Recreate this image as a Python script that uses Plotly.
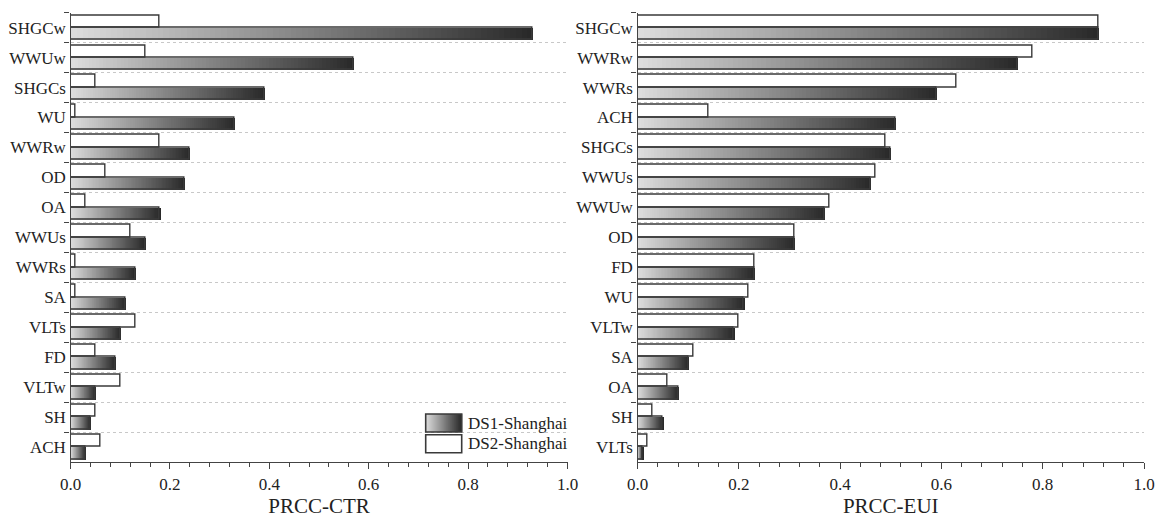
import plotly.graph_objects as go
import numpy as np

# ---------------- data ----------------
ctr_factors = ["SHGCw", "WWUw", "SHGCs", "WU", "WWRw", "OD", "OA", "WWUs",
               "WWRs", "SA", "VLTs", "FD", "VLTw", "SH", "ACH"]
ctr_ds1 = [0.93, 0.57, 0.39, 0.33, 0.24, 0.23, 0.18, 0.15, 0.13, 0.11, 0.10, 0.09, 0.05, 0.04, 0.03]
ctr_ds2 = [0.18, 0.15, 0.05, 0.01, 0.18, 0.07, 0.03, 0.12, 0.01, 0.01, 0.13, 0.05, 0.10, 0.05, 0.06]

eui_factors = ["SHGCw", "WWRw", "WWRs", "ACH", "SHGCs", "WWUs", "WWUw", "OD",
               "FD", "WU", "VLTw", "SA", "OA", "SH", "VLTs"]
eui_ds1 = [0.91, 0.75, 0.59, 0.51, 0.50, 0.46, 0.37, 0.31, 0.23, 0.21, 0.19, 0.10, 0.08, 0.05, 0.01]
eui_ds2 = [0.91, 0.78, 0.63, 0.14, 0.49, 0.47, 0.38, 0.31, 0.23, 0.22, 0.20, 0.11, 0.06, 0.03, 0.02]

series_names = ["DS1-Shanghai", "DS2-Shanghai"]
axis_titles = ["PRCC-CTR", "PRCC-EUI"]
x_ticks = [0.0, 0.2, 0.4, 0.6, 0.8, 1.0]

# ---------------- style ----------------
OFF = 8                      # page body margin
W, H = 1163 - 2 * OFF, 518 - OFF
FONT = "Liberation Serif"
TXT = "#222222"
EDGE = "#3a3a3a"
C_LIGHT = np.array([222, 222, 222])
C_DARK = np.array([40, 40, 40])
N_SEG = 80
BAR_W = 0.415


def px(x):
    return (x - OFF) / W


def py(y):
    return 1 - (y - OFF) / H


def grad(t):
    c = C_LIGHT + (C_DARK - C_LIGHT) * t
    return "rgb(%d,%d,%d)" % tuple(int(round(v)) for v in c)


fig = go.Figure()

panels = [
    ("x", "y", ctr_factors, ctr_ds1, ctr_ds2),
    ("x2", "y2", eui_factors, eui_ds1, eui_ds2),
]

for xa, ya, factors, ds1, ds2 in panels:
    # DS2: white bars (upper bar in each group)
    fig.add_trace(go.Bar(
        y=factors, x=ds2, orientation="h", offset=-BAR_W, width=BAR_W,
        marker=dict(color="white", line=dict(color=EDGE, width=1.4)),
        xaxis=xa, yaxis=ya, showlegend=False, name=series_names[1],
    ))
    # DS1: gradient bars built from stacked segments of each value
    for i in range(N_SEG):
        fig.add_trace(go.Bar(
            y=factors, x=[v / N_SEG for v in ds1], base=[v * i / N_SEG for v in ds1],
            orientation="h", offset=0, width=BAR_W,
            marker=dict(color=grad((i + 0.5) / N_SEG), line=dict(width=0)),
            xaxis=xa, yaxis=ya, showlegend=False, hoverinfo="skip",
        ))
    # DS1 outline
    fig.add_trace(go.Bar(
        y=factors, x=ds1, orientation="h", offset=0, width=BAR_W,
        marker=dict(color="rgba(0,0,0,0)", line=dict(color=EDGE, width=1.4)),
        xaxis=xa, yaxis=ya, showlegend=False, name=series_names[0],
    ))

xaxis_common = dict(
    range=[0, 1], showline=True, linecolor="#444444", linewidth=1.4,
    ticks="outside", ticklen=6, tickwidth=1.2, tickcolor="#444444",
    tickvals=x_ticks, ticktext=["%.1f" % v for v in x_ticks],
    minor=dict(dtick=0.04, tick0=0, ticks="outside", ticklen=4, tickwidth=1.1,
               tickcolor="#444444", showgrid=False),
    showgrid=False, zeroline=False, fixedrange=True, automargin=False,
    ticklabeloverflow="allow",
    tickfont=dict(family=FONT, size=17, color=TXT),
)
yaxis_common = dict(
    type="category", range=[14.5, -0.5], tickson="boundaries",
    ticks="outside", ticklen=5, tickwidth=1.2, tickcolor="#444444",
    showline=True, linecolor="#444444", linewidth=1.4,
    showgrid=True, gridcolor="#c8c8c8", griddash="dot", gridwidth=1,
    zeroline=False, fixedrange=True, automargin=False,
    tickfont=dict(family=FONT, size=17, color=TXT),
)

y_dom = [py(462), py(12.7)]

fig.update_layout(
    template="none",
    width=W, height=H,
    margin=dict(l=0, r=0, t=0, b=0, autoexpand=False),
    paper_bgcolor="white", plot_bgcolor="white",
    barmode="overlay", bargap=0, bargroupgap=0,
    showlegend=False,
    font=dict(family=FONT, color=TXT),
    xaxis=dict(domain=[px(70.5), px(567.5)], anchor="y",
               title=dict(text=axis_titles[0], font=dict(family=FONT, size=21, color=TXT), standoff=9),
               **xaxis_common),
    yaxis=dict(domain=y_dom, anchor="x", **yaxis_common),
    xaxis2=dict(domain=[px(637.5), px(1144)], anchor="y2",
                title=dict(text=axis_titles[1], font=dict(family=FONT, size=21, color=TXT), standoff=9),
                **xaxis_common),
    yaxis2=dict(domain=y_dom, anchor="x2", **yaxis_common),
)

# ---------------- manual legend (left panel) ----------------
shapes = []
lx0, lx1 = 425.7, 461.7
b1y0, b1y1 = 414, 432
b2y0, b2y1 = 434.7, 452.7
n_leg = 36
for i in range(n_leg):
    xa0 = lx0 + (lx1 - lx0) * i / n_leg
    xa1 = lx0 + (lx1 - lx0) * (i + 1) / n_leg
    shapes.append(dict(type="rect", xref="paper", yref="paper",
                       x0=px(xa0), x1=px(xa1) + 0.0004, y0=py(b1y1), y1=py(b1y0),
                       fillcolor=grad((i + 0.5) / n_leg), line=dict(width=0), layer="above"))
shapes.append(dict(type="rect", xref="paper", yref="paper",
                   x0=px(lx0), x1=px(lx1), y0=py(b1y1), y1=py(b1y0),
                   fillcolor="rgba(0,0,0,0)", line=dict(color=EDGE, width=1.6), layer="above"))
shapes.append(dict(type="rect", xref="paper", yref="paper",
                   x0=px(lx0), x1=px(lx1), y0=py(b2y1), y1=py(b2y0),
                   fillcolor="white", line=dict(color=EDGE, width=1.6), layer="above"))
fig.update_layout(shapes=shapes)

for name, yc in zip(series_names, [(b1y0 + b1y1) / 2, (b2y0 + b2y1) / 2]):
    fig.add_annotation(xref="paper", yref="paper", x=px(466), y=py(yc),
                       xanchor="left", yanchor="middle", text=name, showarrow=False,
                       font=dict(family=FONT, size=17, color=TXT))

fig.write_html("out.html")
